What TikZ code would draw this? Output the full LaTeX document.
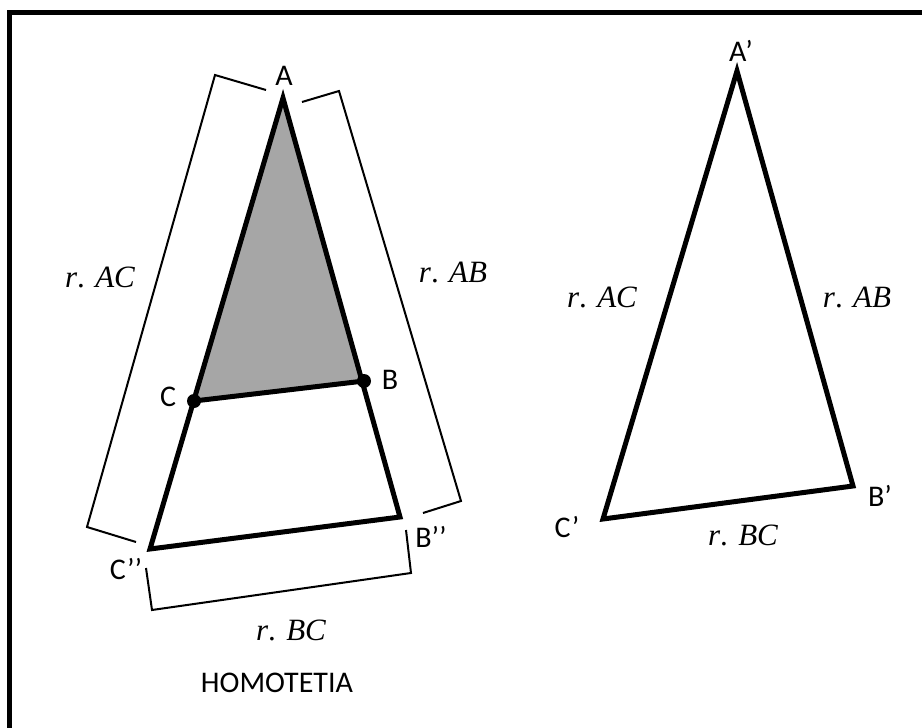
\documentclass[tikz,border=0pt]{standalone}
\usepackage{fontspec}
\setmainfont{Carlito}
\newfontfamily\lenfont{Liberation Serif}
\tikzset{
  ptlabel/.style={inner sep=0pt, font=\fontsize{15}{18}\selectfont},
  lenlabel/.style={inner sep=0pt, font=\fontsize{15.5}{18}\lenfont\itshape},
  tri/.style={line width=2.5pt, line join=miter},
  brace/.style={line width=1pt, line join=miter},
  vdot/.style={circle, fill=black, inner sep=0pt, minimum size=7pt}
}
\begin{document}
\begin{tikzpicture}[x=0.5pt,y=-0.5pt]
\useasboundingbox (0,0) rectangle (922,728);
% frame (only top and left edges are inside the picture)
\draw[line width=2.5pt] (9.5,740) -- (9.5,12.5) -- (940,12.5);
% vertices
\coordinate (A) at (283,98);
\coordinate (B) at (364,381);
\coordinate (C) at (194,401);
\coordinate (Bpp) at (400,517);
\coordinate (Cpp) at (150,549);
\coordinate (Ap) at (737,71);
\coordinate (Bp) at (853,486);
\coordinate (Cp) at (603,519);
% small triangle, shaded
\fill[black!35] (A) -- (B) -- (C) -- cycle;
\draw[tri] (A) -- (Bpp) -- (Cpp) -- cycle;
\draw[tri] (B) -- (C);
\node[vdot] (dotB) at (B) {};
\node[vdot] (dotC) at (C) {};
% image triangle
\draw[tri] (Ap) -- (Bp) -- (Cp) -- cycle;
% brackets
\coordinate (acA) at (266,90);
\coordinate (acB) at (215,75);
\coordinate (acC) at (87,527);
\coordinate (acD) at (136,542);
\draw[brace] (acA) -- (acB) -- (acC) -- (acD);
\coordinate (abA) at (302,102);
\coordinate (abB) at (339,91);
\coordinate (abC) at (461,501);
\coordinate (abD) at (423,513);
\draw[brace] (abA) -- (abB) -- (abC) -- (abD);
\coordinate (bcA) at (406,530);
\coordinate (bcB) at (411,573);
\coordinate (bcC) at (152,610);
\coordinate (bcD) at (146,568);
\draw[brace] (bcA) -- (bcB) -- (bcC) -- (bcD);
% point labels
\node[ptlabel] (labA) at (284,76) {A};
\node[ptlabel] (labB) at (390,380) {B};
\node[ptlabel] (labC) at (168,397) {C};
\node[ptlabel] (labBpp) at (431,537) {B’’};
\node[ptlabel] (labCpp) at (126,569) {C’’};
\node[ptlabel] (labAp) at (741,51) {A’};
\node[ptlabel] (labBp) at (880,496) {B’};
\node[ptlabel] (labCp) at (567,527) {C’};
% lengths
\node[lenlabel] (lenAC) at (100,277) {r\upshape. \itshape AC};
\node[lenlabel] (lenAB) at (453,272) {r\upshape. \itshape AB};
\node[lenlabel] (lenBC) at (291,630) {r\upshape. \itshape BC};
\node[lenlabel] (lenACp) at (602,297) {r\upshape. \itshape AC};
\node[lenlabel] (lenABp) at (857,297) {r\upshape. \itshape AB};
\node[lenlabel] (lenBCp) at (743,535) {r\upshape. \itshape BC};
\node[ptlabel] (title) at (277,683) {HOMOTETIA};
\end{tikzpicture}
\end{document}
